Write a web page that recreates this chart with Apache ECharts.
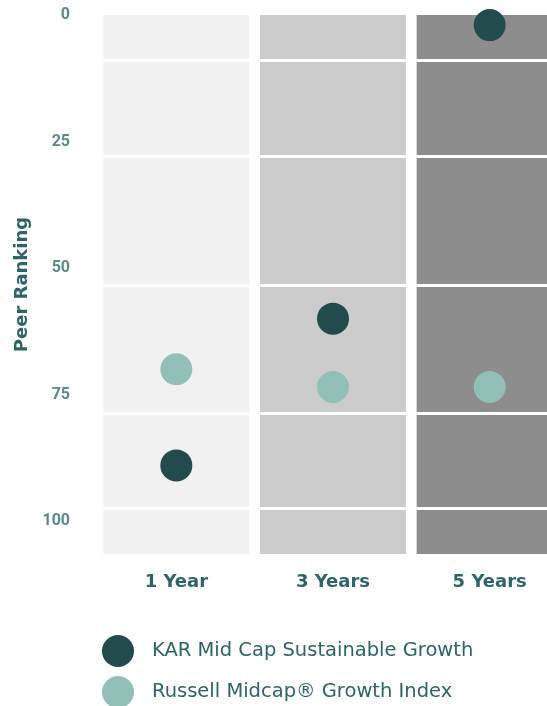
<!DOCTYPE html>
<html>
<head>
<meta charset="utf-8">
<script src="https://cdn.jsdelivr.net/npm/echarts@6/dist/echarts.min.js"></script>
<style>
html,body{margin:0;padding:0;background:#fff;}
#chart{width:547px;height:706px;}
</style>
</head>
<body>
<div id="chart"></div>
<script>
const categories = ['1 Year', '3 Years', '5 Years'];
const yTickLabels = [0, 25, 50, 75, 100];
const kar = [89, 60, 2];
const russell = [70, 73.5, 73.5];
const bandLines = [9, 28, 53.3, 78.6, 97.4];
const axisMax = 106.5;
const columnColors = ['#f1f1f1', '#cccccc', '#8d8d8d'];
const seriesNames = ['KAR Mid Cap Sustainable Growth', 'Russell Midcap® Growth Index'];

const chart = echarts.init(document.getElementById('chart'));
chart.setOption({
  animation: false,
  grid: { left: 98, width: 470, top: 15, height: 539, outerBoundsMode: 'none', containLabel: false },
  xAxis: {
    type: 'category',
    data: categories,
    axisLine: { show: false },
    axisTick: { show: false },
    axisLabel: { color: '#2d6567', fontSize: 18, fontWeight: 'bold', fontFamily: 'DejaVu Sans', margin: 19 }
  },
  yAxis: {
    type: 'value',
    inverse: true,
    min: 0,
    max: axisMax,
    name: 'Peer Ranking',
    nameLocation: 'middle',
    nameRotate: 90,
    nameGap: 66,
    nameTextStyle: { color: '#2d6567', fontSize: 18, fontWeight: 'bold', fontFamily: 'DejaVu Sans' },
    axisLine: { show: false },
    axisTick: { show: false },
    splitLine: { show: false },
    axisLabel: {
      customValues: yTickLabels,
      color: '#5a8a8a', fontSize: 16, fontWeight: 'bold', fontFamily: 'Roboto', margin: 28,
      padding: [4, 0, 0, 0]
    }
  },
  legend: {
    orient: 'vertical',
    left: 102,
    top: 635,
    height: 80,
    padding: 0,
    icon: 'circle',
    itemWidth: 32,
    itemHeight: 32,
    itemGap: 9,
    data: seriesNames,
    textStyle: { color: '#2d6567', fontSize: 19.5, fontFamily: 'DejaVu Sans', padding: [0, 0, 0, 13] }
  },
  series: [
    {
      type: 'bar',
      silent: true,
      barWidth: 146,
      data: categories.map((c, i) => ({ value: axisMax, itemStyle: { color: columnColors[i] } })),
      markLine: {
        silent: true,
        symbol: 'none',
        label: { show: false },
        lineStyle: { color: '#ffffff', width: 3, type: 'solid' },
        data: bandLines.map(v => ({ yAxis: v }))
      },
      z: 1
    },
    {
      name: seriesNames[0],
      type: 'scatter',
      symbolSize: 32,
      itemStyle: { color: '#234b4d', opacity: 1 },
      data: kar,
      z: 5
    },
    {
      name: seriesNames[1],
      type: 'scatter',
      symbolSize: 32,
      itemStyle: { color: '#93bfb9', opacity: 1 },
      data: russell,
      z: 5
    }
  ]
});
</script>
</body>
</html>
